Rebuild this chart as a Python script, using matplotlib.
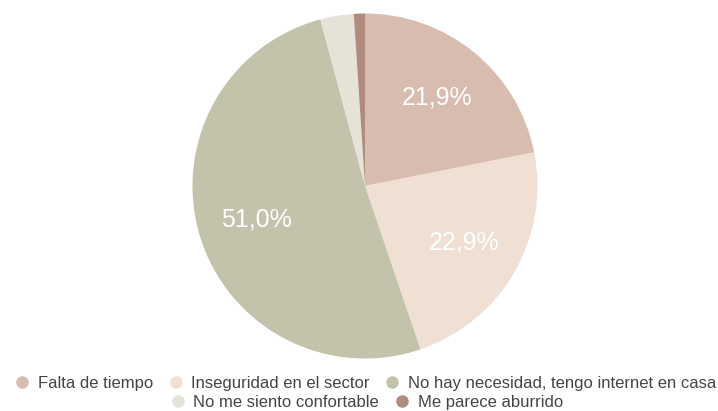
import matplotlib.pyplot as plt
from matplotlib.lines import Line2D

plt.rcParams['font.family'] = ['Liberation Sans', 'DejaVu Sans']

# responses (counts) per reason
categories = [
    'Falta de tiempo',
    'Inseguridad en el sector',
    'No hay necesidad, tengo internet en casa',
    'No me siento confortable',
    'Me parece aburrido',
]
counts = [21, 22, 49, 3, 1]
colors = ['#d9bcb0', '#f0dfd3', '#c3c2ab', '#e5e3d8', '#b08b80']

W, H = 718, 411
fig = plt.figure(figsize=(W / 100, H / 100), dpi=100)

cx, cy, r = 365, 186, 172.5
ax = fig.add_axes([(cx - r) / W, (H - cy - r) / H, 2 * r / W, 2 * r / H])


def fmt_pct(p):
    if p < 5:
        return ''
    return f'{p:.1f}%'.replace('.', ',')


wedges, texts, autotexts = ax.pie(
    counts, colors=colors, startangle=90, counterclock=False,
    autopct=fmt_pct, pctdistance=0.66, radius=1,
    wedgeprops={'linewidth': 0},
    textprops={'color': 'white', 'fontsize': 18},
)
ax.set_xlim(-1, 1)
ax.set_ylim(-1, 1)
ax.set_aspect('equal')
ax.axis('off')


def handle(c):
    return Line2D([0], [0], marker='o', linestyle='', markersize=8,
                  markerfacecolor=c, markeredgecolor=c)


handles = [handle(c) for c in colors]
common = dict(frameon=False, fontsize=12, handletextpad=0.45,
              columnspacing=0.85, borderaxespad=0, handlelength=1.0,
              labelcolor='#444444')
leg1 = fig.legend(handles[:3], categories[:3], ncol=3, loc='center',
                  bbox_to_anchor=(0.5 + 6 / W, 1 - 383 / H), **common)
leg2 = fig.legend(handles[3:], categories[3:], ncol=2, loc='center',
                  bbox_to_anchor=(0.5 + 7 / W, 1 - 402 / H), **common)

fig.savefig('out.png', dpi=100)
